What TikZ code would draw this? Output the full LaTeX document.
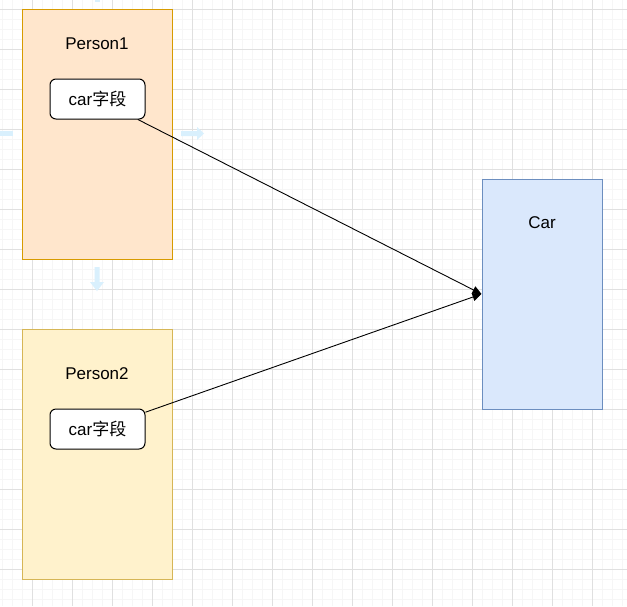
\documentclass[tikz,border=0pt]{standalone}
\usepackage{fontspec}
\setmainfont{Liberation Sans}
\newfontfamily\cjk{Noto Sans CJK SC}
\usetikzlibrary{arrows.meta}
\definecolor{p1fill}{HTML}{FFE6CC}
\definecolor{p1line}{HTML}{D79B00}
\definecolor{p2fill}{HTML}{FFF2CC}
\definecolor{p2line}{HTML}{D6B656}
\definecolor{carfill}{HTML}{DAE8FC}
\definecolor{carline}{HTML}{6C8EBF}
\definecolor{gridminor}{HTML}{F6F6F6}
\definecolor{gridmajor}{HTML}{E0E0E0}
\definecolor{hint}{HTML}{D9F0FD}
\tikzset{
  txt/.style={font=\fontsize{17}{20}\selectfont, inner sep=0pt},
  bigbox/.style={draw, line width=1pt, minimum width=150, minimum height=250, inner sep=0pt},
  fieldbox/.style={draw=black, fill=white, line width=1pt, rounded corners=6pt, minimum width=95, minimum height=40, inner sep=0pt, font=\fontsize{17}{20}\selectfont},
  link/.style={draw=black, line width=0.9pt, -{Triangle[length=9pt,width=8pt]}},
  hintarrow/.style={fill=hint, draw=none}
}
\begin{document}
\begin{tikzpicture}[x=1pt,y=-1pt]
\useasboundingbox (0,0) rectangle (627,606);
\fill[white] (0,0) rectangle (627,606);
% grid
\foreach \x in {2,12,...,622} \draw[gridminor, line width=0.8pt] (\x,0) -- (\x,606);
\foreach \y in {9,19,...,599} \draw[gridminor, line width=0.8pt] (0,\y) -- (627,\y);
\foreach \x in {32,72,...,592} \draw[gridmajor, line width=0.8pt] (\x,0) -- (\x,606);
\foreach \y in {9,49,...,569} \draw[gridmajor, line width=0.8pt] (0,\y) -- (627,\y);
% hover hints
\fill[hintarrow] (181,131) -- (197,131) -- (197,127) -- (204,133.5) -- (197,140) -- (197,136) -- (181,136) -- cycle;
\fill[hintarrow] (0,131) -- (13,131) -- (13,136) -- (0,136) -- cycle;
\fill[hintarrow] (94.5,267) -- (99.5,267) -- (99.5,282) -- (104,282) -- (97,291) -- (90,282) -- (94.5,282) -- cycle;
\fill[hintarrow] (94.5,0) -- (99.5,0) -- (99.5,2) -- (94.5,2) -- cycle;
% boxes
\node[bigbox, draw=p1line, fill=p1fill] (person1) at (97,134) {};
\node[bigbox, draw=p2line, fill=p2fill] (person2) at (97,454) {};
\node[draw=carline, fill=carfill, line width=1pt, minimum width=120, minimum height=230, inner sep=0pt] (car) at (542,294) {};
\node[txt] (p1label) at (97,44) {Person1};
\node[txt] (p2label) at (97,374) {Person2};
\node[txt] (carlabel) at (542,223) {Car};
\node[fieldbox] (f1) at (97.5,99) {car{\cjk 字段}};
\node[fieldbox] (f2) at (97.5,429) {car{\cjk 字段}};
\draw[link] (f1) -- (car.west);
\draw[link] (f2) -- (car.west);
\end{tikzpicture}
\end{document}
